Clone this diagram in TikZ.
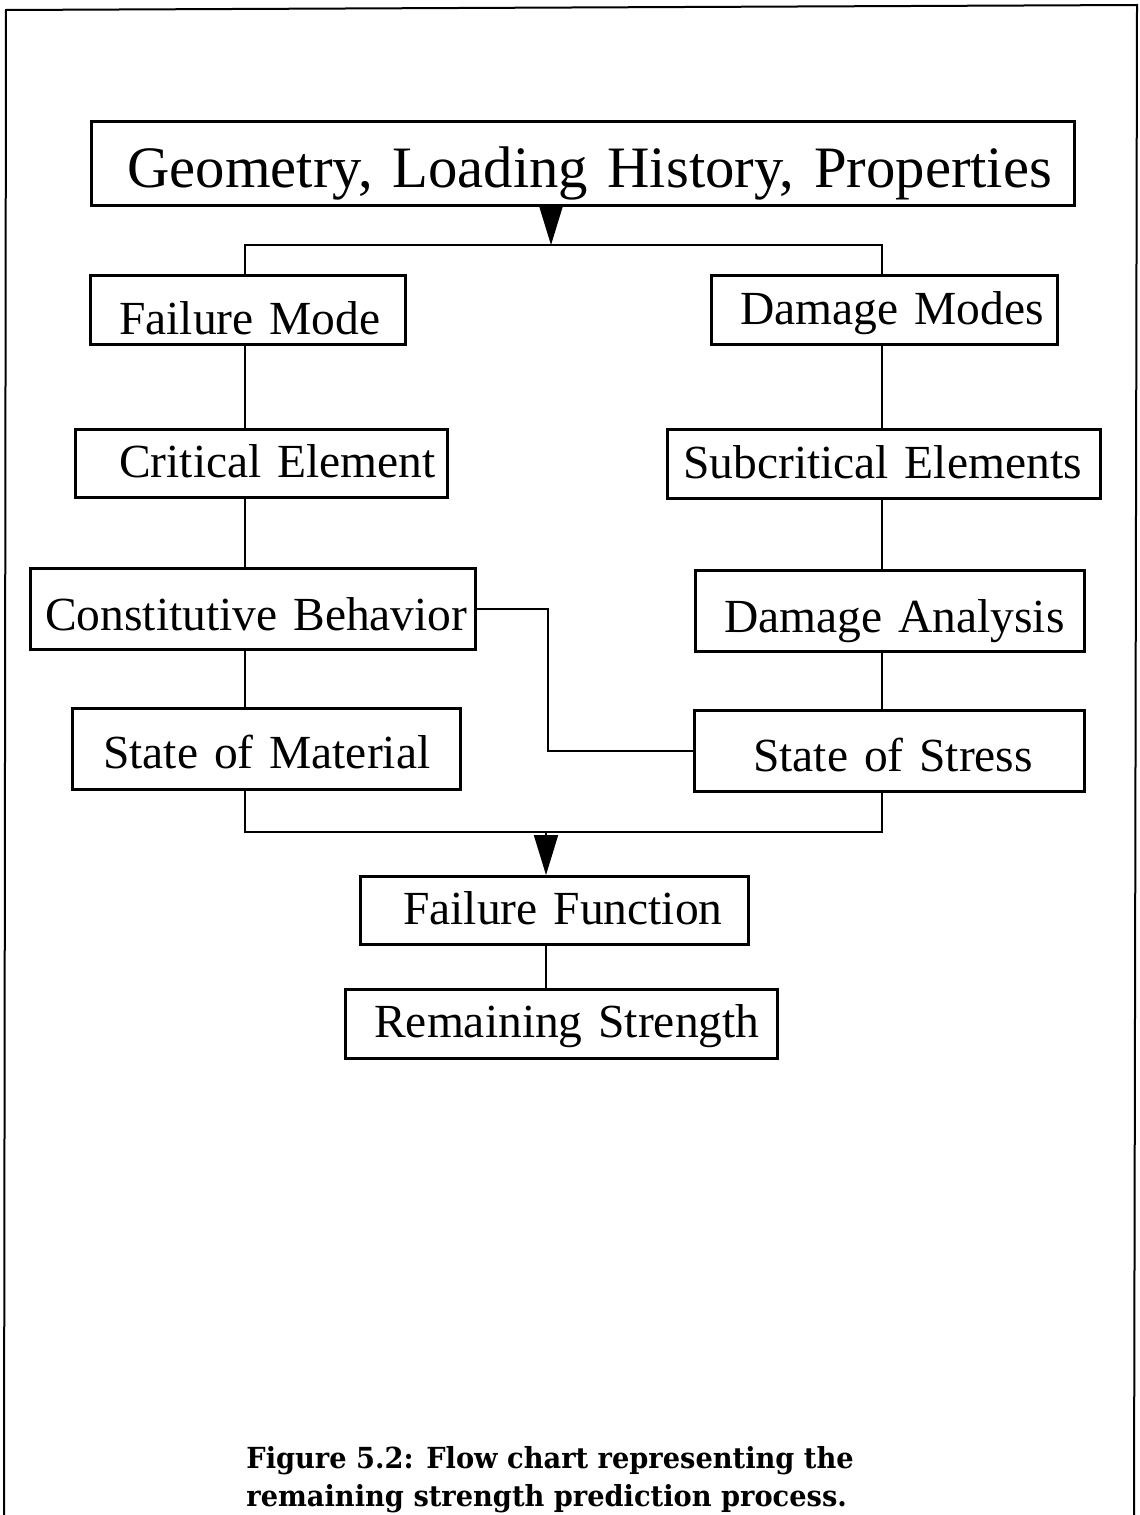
\documentclass[tikz,border=0pt]{standalone}
\usepackage{fontspec}
\setmainfont{Liberation Serif}
\newfontfamily\capfont[FakeStretch=0.94]{DejaVu Serif}
\usetikzlibrary{arrows.meta}

\tikzset{
  flowbox/.style={draw, line width=1.25pt, rectangle, inner sep=0pt,
    anchor=north west, align=left,
    font=\fontsize{23.75pt}{28pt}\selectfont},
  bigfont/.style={font=\fontsize{29.35pt}{34pt}\selectfont},
  link/.style={line width=1pt},
  flowarrow/.style={link, -{Triangle[length=20pt,width=12pt]}},
  frameline/.style={line width=1pt},
}

\newdimen\fbW \newdimen\fbH \newdimen\fbD \newdimen\fbL
% [options]{name}{x0}{y0}{x1}{y1}{text x}{baseline y}{text}
\newcommand\flowbox[9][]{%
  \fbW=\dimexpr(#5pt-#3pt)/2\relax
  \fbH=\dimexpr(#8pt-#4pt)/2\relax
  \fbD=\dimexpr(#6pt-#8pt)/2\relax
  \fbL=\dimexpr(#7pt-#3pt)/2\relax
  \node[flowbox,#1,text width=\fbW,text height=\fbH,text depth=\fbD]
    (#2) at (#3,#4) {\hspace*{\fbL}\mbox{#9}};}

\begin{document}
\begin{tikzpicture}[x=0.5pt,y=-0.5pt]
\useasboundingbox (0,0) rectangle (1140,1515);

% page frame, open at the bottom
\draw[frameline] (4,1515) -- (6,10) -- (1137,5) -- (1134,1515);

% boxes
\flowbox[bigfont]{top}{90}{120}{1073}{204}{126}{186}{Geometry, Loading History, Properties}
\flowbox{fm}{89}{274}{404}{343}{118}{333}{Failure Mode}
\flowbox{ce}{74}{428}{446}{496}{118}{476}{Critical Element}
\flowbox{cb}{29}{567}{474}{648}{44}{629}{Constitutive Behavior}
\flowbox{som}{71}{707}{459}{788}{102}{767}{State of Material}
\flowbox{dm}{710}{274}{1056}{343}{739}{323}{Damage Modes}
\flowbox{se}{666}{428}{1099}{497}{682}{477}{Subcritical Elements}
\flowbox{da}{694}{569}{1083}{650}{723}{631}{Damage Analysis}
\flowbox{sos}{693}{709}{1083}{790}{752}{770}{State of Stress}
\flowbox{ff}{359}{875}{747}{943}{402}{923}{Failure Function}
\flowbox{rs}{344}{988}{776}{1057}{373}{1036}{Remaining Strength}

% branch points
\coordinate (splitM) at (551,245);
\coordinate (splitL) at (245,245);
\coordinate (splitR) at (882,245);
\coordinate (jog) at (548,0);
\coordinate (joinM) at (546,832);
\coordinate (joinL) at (245,832);
\coordinate (joinR) at (882,832);

% split into the two branches
\draw[flowarrow] (top.south -| splitM) -- (splitM);
\draw[link] (fm.north -| splitL) -- (splitL) -- (splitR) -- (dm.north -| splitR);

% left branch
\draw[link] (fm.south -| splitL) -- (ce.north -| splitL);
\draw[link] (ce.south -| splitL) -- (cb.north -| splitL);
\draw[link] (cb.south -| splitL) -- (som.north -| splitL);

% right branch
\draw[link] (dm.south -| splitR) -- (se.north -| splitR);
\draw[link] (se.south -| splitR) -- (da.north -| splitR);
\draw[link] (da.south -| splitR) -- (sos.north -| splitR);

% cross link
\draw[link] (cb.east) -| (jog |- sos.west) -- (sos.west);

% merge
\draw[link] (som.south -| joinL) -- (joinL) -- (joinR) -- (sos.south -| joinR);
\draw[flowarrow] (joinM) -- (ff.north -| joinM);
\draw[link] (ff.south -| joinM) -- (rs.north -| joinM);

% caption
\node[anchor=base west, align=left, inner sep=0pt,
      font=\capfont\bfseries\fontsize{14.5pt}{19pt}\selectfont] (caption) at (246,1506)
  {Figure 5.2: Flow chart representing the\\remaining strength prediction process.};
\end{tikzpicture}
\end{document}
